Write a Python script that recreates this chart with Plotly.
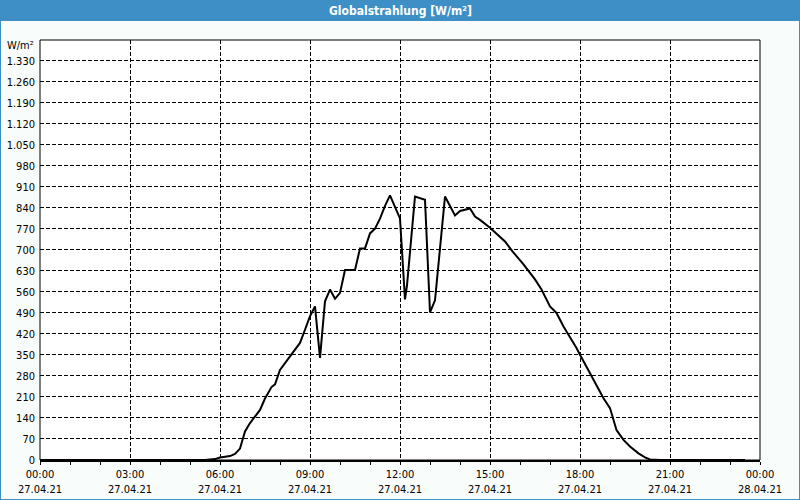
import plotly.graph_objects as go

# Data (time of day on 27.04.21, value in W/m²)
times = ["00:00", "05:30", "05:50", "06:00", "06:20", "06:30", "06:40", "06:45", "06:50",
         "07:00", "07:20", "07:30", "07:43", "07:50", "08:00", "08:20", "08:40", "08:50",
         "09:00", "09:10", "09:20", "09:30", "09:40", "09:50", "10:00", "10:10", "10:30",
         "10:40", "10:50", "11:00", "11:10", "11:20", "11:30", "11:40", "11:50", "12:00",
         "12:10", "12:14", "12:30", "12:50", "13:00", "13:10", "13:30", "13:50", "14:00",
         "14:10", "14:20", "14:30", "14:40", "15:00", "15:15", "15:30", "15:45", "16:07", "16:30",
         "16:43", "17:00", "17:13", "17:27", "17:37", "17:53", "18:00", "18:13", "18:27",
         "18:47", "19:00", "19:07", "19:13", "19:27", "19:40", "19:57", "20:10", "20:20",
         "20:40", "23:30"]
values = [0, 0, 3, 8, 13, 20, 38, 65, 95,
          123, 167, 205, 243, 252, 300, 345, 390, 434,
          479, 512, 340, 529, 568, 537, 557, 633, 633,
          705, 705, 755, 771, 804, 847, 882, 845, 805,
          535, 582, 878, 867, 492, 532, 878, 815, 830,
          833, 838, 811, 800, 774, 752, 728, 695, 652, 602,
          568, 512, 490, 445, 418, 373, 351, 312, 267,
          206, 173, 134, 100, 67, 45, 22, 9, 2,
          0, 0]

title_text = "Globalstrahlung [W/m²]"
unit_text = "W/m²"
day = "2021-04-27"

x = [f"{day} {t}" for t in times]

FONT = "DejaVu Sans Condensed, DejaVu Sans, sans-serif"
BLUE = "#3d8fc6"

fig = go.Figure()
fig.add_trace(go.Scatter(x=x, y=values, mode="lines",
                         line=dict(color="black", width=2), hoverinfo="skip"))

W, H = 800, 500
L, R, T, B = 40, 40, 40, 40
pw, ph = W - L - R, H - T - B


def px_x(p):
    return (p - L) / pw


def px_y(p):
    return (H - B - p) / ph


shapes = [
    # title bar
    dict(type="rect", xref="paper", yref="paper", x0=px_x(0), x1=px_x(W), y0=px_y(21), y1=px_y(-2),
         fillcolor=BLUE, line=dict(width=0), layer="below"),
    # window border
    dict(type="rect", xref="paper", yref="paper", x0=px_x(0), x1=px_x(W), y0=px_y(H), y1=px_y(0),
         line=dict(color=BLUE, width=2), fillcolor="rgba(0,0,0,0)"),
    # plot box
    dict(type="rect", xref="paper", yref="paper", x0=0, x1=1, y0=0, y1=1,
         line=dict(color="black", width=1), fillcolor="rgba(0,0,0,0)", layer="above"),
]

fig.update_layout(
    width=W, height=H,
    margin=dict(l=L, r=R, t=T, b=B, autoexpand=False),
    paper_bgcolor="#f8fcfa", plot_bgcolor="white",
    showlegend=False,
    separators=",.",
    font=dict(family=FONT, size=11, color="black"),
    shapes=shapes,
    annotations=[
        dict(text=f"<b>{title_text}</b>", xref="paper", yref="paper", x=0.5, y=px_y(10.5),
             xanchor="center", yanchor="middle", showarrow=False,
             font=dict(color="white", size=12, family=FONT)),
        dict(text=unit_text, xref="paper", yref="paper", x=0, y=1, xanchor="right",
             yanchor="middle", xshift=-4, yshift=-5, showarrow=False,
             font=dict(size=11, family=FONT)),
    ],
)

fig.update_xaxes(
    type="date",
    range=[f"{day} 00:00", "2021-04-28 00:00"],
    tickmode="linear", tick0=f"{day} 00:00", dtick=3 * 3600 * 1000,
    tickformat="%H:%M<br>%d.%m.%y",
    ticks="outside", ticklen=3, tickcolor="black",
    showgrid=True, gridcolor="black", gridwidth=1, griddash="4px,2px",
    showline=True, linecolor="black", linewidth=2,
    minor=dict(dtick=3600 * 1000, ticks="outside", ticklen=3, tickcolor="black", showgrid=False),
    zeroline=False, fixedrange=True,
    tickfont=dict(size=11, family=FONT),
)

fig.update_yaxes(
    range=[0, 1399.5],
    tickmode="linear", tick0=0, dtick=70, tickformat=",d",
    showgrid=True, gridcolor="black", gridwidth=1, griddash="4px,2px",
    showline=False, zeroline=False, ticks="", ticklabelstandoff=4,
    fixedrange=True,
    tickfont=dict(size=11, family=FONT),
)

fig.write_html("out.html")
